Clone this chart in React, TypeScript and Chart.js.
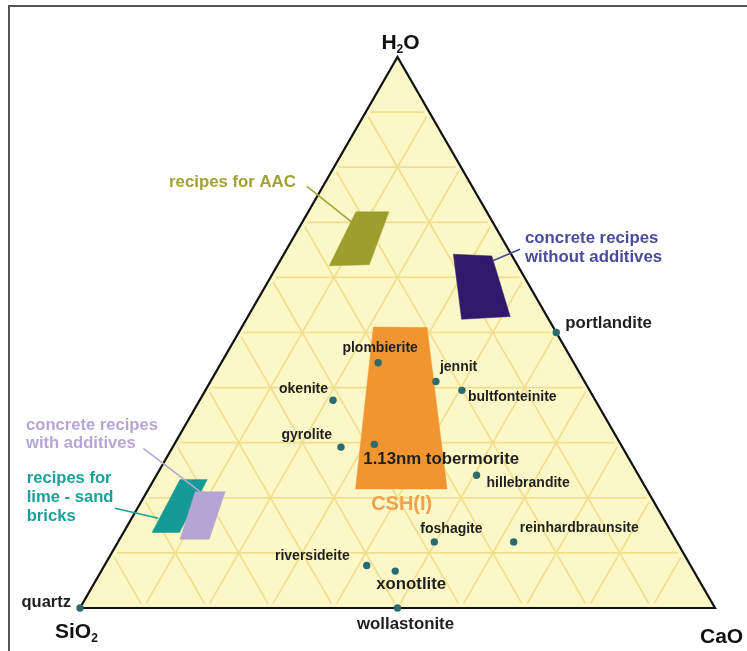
import React, { useEffect, useRef } from 'react';
import { Chart, registerables } from 'chart.js';

Chart.register(...registerables);

type Triple = [number, number, number]; // [SiO2, CaO, H2O] in %

const H = Math.sqrt(3) / 2;

// Corner components of the ternary system
const AXIS_NAMES = ['SiO2', 'CaO', 'H2O'];

// Phases of the CaO–SiO2–H2O system
const PHASES = [
  'quartz', 'wollastonite', 'portlandite', 'plombierite', 'jennit', 'bultfonteinite',
  'okenite', 'gyrolite', '1.13nm tobermorite', 'hillebrandite', 'foshagite',
  'reinhardbraunsite', 'riversideite', 'xonotlite',
];
const PHASE_SIO2 = [100, 50, 0, 30.8, 23.4, 20.1, 41.3, 44.3, 38.8, 25.5, 38.2, 25.7, 51.0, 47.0];
const PHASE_CAO = [0, 50, 50, 24.7, 35.5, 40.4, 21.0, 26.5, 31.5, 50.4, 49.8, 62.3, 41.3, 46.3];
const PHASE_H2O = [0, 0, 50, 44.5, 41.1, 39.5, 37.7, 29.2, 29.7, 24.1, 12.0, 12.0, 7.7, 6.7];

// Recipe / phase fields (polygon vertices)
const AAC_RECIPES: Triple[] = [[20.6, 7.5, 71.9], [15.4, 12.7, 71.9], [23.3, 14.4, 62.3], [29.7, 8.2, 62.1]];
const CONCRETE_PLAIN: Triple[] = [[9.1, 26.7, 64.2], [3.2, 32.9, 63.9], [5.8, 41.3, 52.9], [13.7, 33.9, 52.4]];
const CSH_I: Triple[] = [[28.3, 20.7, 51.0], [19.9, 29.2, 50.9], [31.4, 47.0, 21.6], [45.8, 32.6, 21.6]];
const LIME_SAND: Triple[] = [[72.6, 4.1, 23.3], [68.3, 8.4, 23.3], [77.5, 8.8, 13.7], [81.8, 4.5, 13.7]];
const CONCRETE_ADDITIVES: Triple[] = [[71.3, 7.6, 21.1], [66.6, 12.3, 21.1], [73.4, 14.1, 12.5], [78.0, 9.5, 12.5]];

// Grid steps (%)
const GRID_STEPS = [10, 20, 30, 40, 50, 60, 70, 80, 90];

const toXY = (t: Triple) => ({ x: (t[1] + t[2] / 2) / 100, y: (t[2] / 100) * H });

const FONT = '"Liberation Sans", Arial, Helvetica, sans-serif';
const DOT = '#2b6b6e';
const INK = '#1f1f1f';

// Label placement for each phase, in pixels from its dot
const PHASE_LABELS: { dx: number; dy: number; align: CanvasTextAlign; size: number }[] = [
  { dx: -9, dy: -6, align: 'right', size: 16.5 },
  { dx: 8, dy: 16, align: 'center', size: 16.8 },
  { dx: 9, dy: -9, align: 'left', size: 16.8 },
  { dx: 2, dy: -15, align: 'center', size: 14 },
  { dx: 4, dy: -14, align: 'left', size: 14 },
  { dx: 6, dy: 7, align: 'left', size: 14 },
  { dx: -5, dy: -11, align: 'right', size: 14 },
  { dx: -9, dy: -12, align: 'right', size: 14 },
  { dx: -11, dy: 15, align: 'left', size: 16.8 },
  { dx: 10, dy: 8, align: 'left', size: 14 },
  { dx: -14, dy: -13, align: 'left', size: 14 },
  { dx: 6, dy: -14, align: 'left', size: 14 },
  { dx: -17, dy: -9, align: 'right', size: 14 },
  { dx: -19, dy: 13, align: 'left', size: 16.8 },
];

// Field annotations: text anchor and leader line in chart units
const FIELD_NOTES = [
  { lines: ['recipes for AAC'], color: '#a0a334', x: 0.1402, y: 0.6695, align: 'left', size: 16.8,
    leader: [[0.357, 0.6632], [0.4279, 0.6066]] },
  { lines: ['concrete recipes', 'without additives'], color: '#4a4b9d', x: 0.7008, y: 0.581, align: 'left', size: 16.8,
    leader: [[0.6499, 0.5458], [0.6929, 0.5638]] },
  { lines: ['concrete recipes', 'with additives'], color: '#b6a6d6', x: -0.085, y: 0.2876, align: 'left', size: 16.6,
    leader: [[0.0997, 0.251], [0.189, 0.1828]] },
  { lines: ['recipes for', 'lime - sand', 'bricks'], color: '#1a9f9a', x: -0.0839, y: 0.2043, align: 'left', size: 16.6,
    leader: [[0.0551, 0.1567], [0.1233, 0.1411]] },
  { lines: ['CSH(I)'], color: '#f0a14c', x: 0.5066, y: 0.1627, align: 'center', size: 20, leader: null },
];
const LINE_GAP = [19, 19, 18.3, 19, 0];

function drawChem(ctx: CanvasRenderingContext2D, text: string, x: number, y: number, size: number, align: 'left' | 'center') {
  const runs = text.split(/(\d+)/).filter(Boolean);
  const big = `bold ${size}px ${FONT}`;
  const small = `bold ${Math.round(size * 0.55)}px ${FONT}`;
  let total = 0;
  for (const r of runs) {
    ctx.font = /^\d+$/.test(r) ? small : big;
    total += ctx.measureText(r).width;
  }
  let cx = align === 'center' ? x - total / 2 : x;
  ctx.textAlign = 'left';
  ctx.textBaseline = 'middle';
  for (const r of runs) {
    const sub = /^\d+$/.test(r);
    ctx.font = sub ? small : big;
    ctx.fillText(r, cx, sub ? y + size * 0.3 : y);
    cx += ctx.measureText(r).width;
  }
}

const framePlugin = {
  id: 'frame',
  beforeDraw(chart: any) {
    const { ctx, width, height } = chart;
    ctx.save();
    ctx.fillStyle = '#ffffff';
    ctx.fillRect(0, 0, width, height);
    ctx.strokeStyle = '#555555';
    ctx.lineWidth = 2;
    ctx.strokeRect(9, 6, width + 20, height + 20);
    ctx.restore();
  },
};

const labelPlugin = {
  id: 'ternaryLabels',
  afterDatasetsDraw(chart: any) {
    const { ctx } = chart;
    const sx = chart.scales.x;
    const sy = chart.scales.y;
    const pix = (p: { x: number; y: number }) => [sx.getPixelForValue(p.x), sy.getPixelForValue(p.y)];
    ctx.save();

    // phase names
    ctx.fillStyle = INK;
    ctx.textBaseline = 'middle';
    PHASES.forEach((name, i) => {
      const [px, py] = pix(toXY([PHASE_SIO2[i], PHASE_CAO[i], PHASE_H2O[i]]));
      const l = PHASE_LABELS[i];
      ctx.font = `bold ${l.size}px ${FONT}`;
      ctx.textAlign = l.align;
      ctx.fillText(name, px + l.dx, py + l.dy);
    });

    // field annotations
    FIELD_NOTES.forEach((n, k) => {
      const [px, py] = pix({ x: n.x, y: n.y });
      ctx.fillStyle = n.color;
      ctx.font = `bold ${n.size}px ${FONT}`;
      ctx.textAlign = n.align as CanvasTextAlign;
      ctx.textBaseline = 'middle';
      n.lines.forEach((line, j) => ctx.fillText(line, px, py + j * LINE_GAP[k]));
    });

    // corner components
    ctx.fillStyle = '#111111';
    const corners: Triple[] = [[100, 0, 0], [0, 100, 0], [0, 0, 100]];
    const [bl, br, top] = corners.map((c) => pix(toXY(c)));
    drawChem(ctx, AXIS_NAMES[0], bl[0] - 25, bl[1] + 24, 21, 'left');
    drawChem(ctx, AXIS_NAMES[1], br[0] - 15, br[1] + 29, 21, 'left');
    drawChem(ctx, AXIS_NAMES[2], top[0] + 3, top[1] - 14, 21, 'center');
    ctx.restore();
  },
};

function gridDatasets() {
  const sets: any[] = [];
  const inset = 0.008;
  const seg = (a: Triple, b: Triple) => {
    const p = toXY(a);
    const q = toXY(b);
    const len = Math.hypot(q.x - p.x, q.y - p.y);
    const ux = (q.x - p.x) / len;
    const uy = (q.y - p.y) / len;
    return [
      { x: p.x + ux * inset, y: p.y + uy * inset },
      { x: q.x - ux * inset, y: q.y - uy * inset },
    ];
  };
  GRID_STEPS.forEach((t) => {
    const lines: [Triple, Triple][] = [
      [[100 - t, 0, t], [0, 100 - t, t]],
      [[100 - t, t, 0], [0, t, 100 - t]],
      [[t, 100 - t, 0], [t, 0, 100 - t]],
    ];
    lines.forEach(([a, b]) => {
      sets.push({
        data: seg(a, b),
        showLine: true,
        borderColor: '#f2df8e',
        borderWidth: 1.7,
        pointRadius: 0,
        fill: false,
      });
    });
  });
  return sets;
}

const polygon = (verts: Triple[], color: string) => ({
  data: [...verts, verts[0]].map(toXY),
  showLine: true,
  fill: 'shape',
  backgroundColor: color,
  borderColor: color,
  borderWidth: 0.5,
  pointRadius: 0,
});

export default function App() {
  const ref = useRef<HTMLCanvasElement | null>(null);

  useEffect(() => {
    if (!ref.current) return;
    const triangle: Triple[] = [[100, 0, 0], [0, 100, 0], [0, 0, 100], [100, 0, 0]];

    // listed back to front; Chart.js paints the first dataset last
    const layers: any[] = [
      {
        data: triangle.map(toXY),
        showLine: true,
        fill: 'shape',
        backgroundColor: '#fbf7c6',
        borderColor: 'rgba(0,0,0,0)',
        borderWidth: 0,
        pointRadius: 0,
      },
      ...gridDatasets(),
      {
        data: [...triangle, triangle[1]].map(toXY),
        showLine: true,
        fill: false,
        borderColor: '#111111',
        borderWidth: 2.2,
        borderJoinStyle: 'miter',
        pointRadius: 0,
        clip: false,
      },
      polygon(AAC_RECIPES, '#9c9f2d'),
      polygon(CONCRETE_PLAIN, '#33196b'),
      polygon(CSH_I, '#f0952f'),
      polygon(LIME_SAND, '#169a95'),
      polygon(CONCRETE_ADDITIVES, '#b5a4d4'),
      ...FIELD_NOTES.filter((n) => n.leader).map((n) => ({
        data: (n.leader as number[][]).map(([x, y]) => ({ x, y })),
        showLine: true,
        borderColor: n.color,
        borderWidth: 1.5,
        pointRadius: 0,
        fill: false,
        clip: false,
      })),
      {
        data: PHASES.map((_, i) => toXY([PHASE_SIO2[i], PHASE_CAO[i], PHASE_H2O[i]])),
        showLine: false,
        pointRadius: 3.7,
        pointBackgroundColor: DOT,
        pointBorderWidth: 0,
        clip: false,
      },
    ];
    const datasets = layers.reverse();

    const chart = new Chart(ref.current, {
      type: 'scatter',
      data: { datasets },
      options: {
        animation: false,
        responsive: false,
        devicePixelRatio: 1,
        events: [],
        layout: { padding: { left: 80, right: 32, top: 57, bottom: 43 } },
        scales: {
          x: { type: 'linear', min: 0, max: 1, display: false },
          y: { type: 'linear', min: 0, max: H, display: false },
        },
        plugins: {
          legend: { display: false },
          tooltip: { enabled: false },
        },
        elements: { line: { tension: 0 } },
      },
      plugins: [framePlugin, labelPlugin],
    });
    return () => chart.destroy();
  }, []);

  return (
    <div style={{ position: 'fixed', left: 0, top: 0, width: 747, height: 651, background: '#fff' }}>
      <canvas ref={ref} width={747} height={651} style={{ display: 'block' }} />
    </div>
  );
}
